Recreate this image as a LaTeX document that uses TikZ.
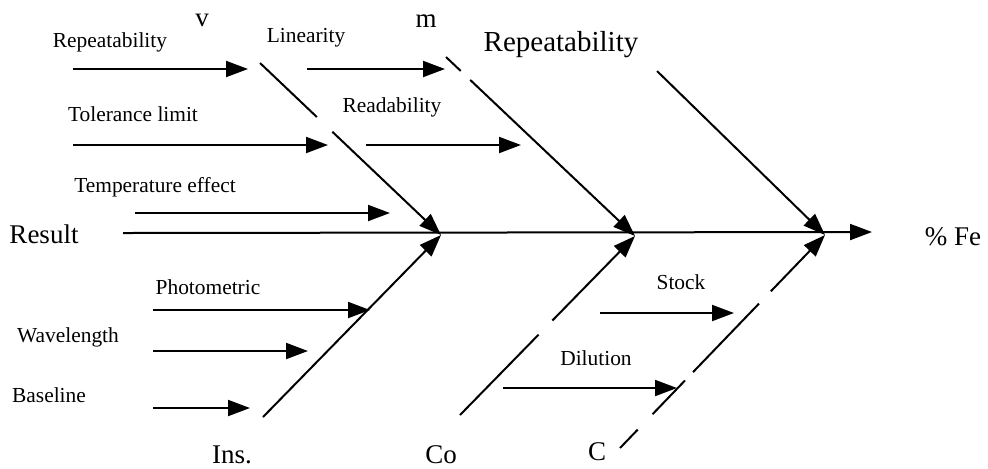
\documentclass[tikz,border=0pt]{standalone}
\usepackage{fontspec}
\setmainfont{Liberation Serif}
\usetikzlibrary{arrows.meta,calc}
\tikzset{
  tip/.tip={Triangle[length=11pt,width=8pt]},
  arr/.style={line width=1pt,-tip},
  bone/.style={line width=1pt},
  small/.style={inner sep=0pt,font=\fontsize{10.7pt}{12pt}\selectfont},
  big/.style={inner sep=0pt,font=\fontsize{13.5pt}{16pt}\selectfont},
}
\begin{document}
\begin{tikzpicture}[x=0.5pt,y=-0.5pt]
\useasboundingbox (0,0) rectangle (988,468);
% text labels
\node[big] (result) at (44,234) {Result};
\node[big] (fe) at (953,237) {\% Fe};
\node[big] (v) at (202,20) {v};
\node[big] (m) at (426,21) {m};
\node[big,font=\fontsize{14.5pt}{17pt}\selectfont] (rep2) at (561,45) {Repeatability};
\node[big] (ins) at (232,455) {Ins.};
\node[big] (co) at (441,455) {Co};
\node[big] (c) at (597,452) {C};
\node[small] (lrep) at (110,42) {Repeatability};
\node[small] (llin) at (306,38) {Linearity};
\node[small] (ltol) at (133,114) {Tolerance limit};
\node[small] (lread) at (392,107) {Readability};
\node[small] (ltemp) at (155,187) {Temperature effect};
\node[small] (lphoto) at (208,287) {Photometric};
\node[small] (lwave) at (68,337) {Wavelength};
\node[small] (lbase) at (49,395) {Baseline};
\node[small] (lstock) at (681,282) {Stock};
\node[small] (ldil) at (596,358) {Dilution};
% spine
\coordinate (s0) at (123,233);
\coordinate (s1) at (872,232);
\coordinate (J1) at (441,235);
\coordinate (J2) at (635,236);
\coordinate (J3) at (825,235);
\draw[arr] (s0) -- (s1);
% upper bones
\coordinate (b1) at (260,63);
\draw[bone] (b1) -- ($(b1)!0.314!(J1)$);
\draw[arr] ($(b1)!0.40!(J1)$) -- (J1);
\coordinate (b2) at (446,57);
\draw[bone] (b2) -- ($(b2)!0.078!(J2)$);
\draw[arr] ($(b2)!0.128!(J2)$) -- (J2);
\coordinate (b3) at (657,71);
\draw[arr] (b3) -- (J3);
% lower bones
\coordinate (d1) at (263,417);
\draw[arr] (d1) -- (J1);
\coordinate (d2) at (460,415);
\draw[bone] (d2) -- ($(d2)!0.449!(J2)$);
\draw[arr] ($(d2)!0.528!(J2)$) -- (J2);
\coordinate (d3) at (620,448);
\draw[bone] (d3) -- ($(d3)!0.0865!(J3)$);
\draw[bone] ($(d3)!0.159!(J3)$) -- ($(d3)!0.317!(J3)$);
\draw[bone] ($(d3)!0.356!(J3)$) -- ($(d3)!0.678!(J3)$);
\draw[arr] ($(d3)!0.736!(J3)$) -- (J3);
% cause arrows
\coordinate (a1) at (73,69);   \coordinate (e1) at (248,69);
\coordinate (a2) at (307,69);  \coordinate (e2) at (445,69);
\coordinate (a3) at (73,145);  \coordinate (e3) at (328,145);
\coordinate (a4) at (366,145); \coordinate (e4) at (521,145);
\coordinate (a5) at (135,213); \coordinate (e5) at (390,213);
\coordinate (a6) at (153,310); \coordinate (e6) at (370,310);
\coordinate (a7) at (153,351); \coordinate (e7) at (308,351);
\coordinate (a8) at (153,408); \coordinate (e8) at (250,408);
\coordinate (a9) at (600,313); \coordinate (e9) at (734,313);
\coordinate (a10) at (503,388); \coordinate (e10) at (677,388);
\foreach \i in {1,...,10} { \draw[arr] (a\i) -- (e\i); }
\end{tikzpicture}
\end{document}
